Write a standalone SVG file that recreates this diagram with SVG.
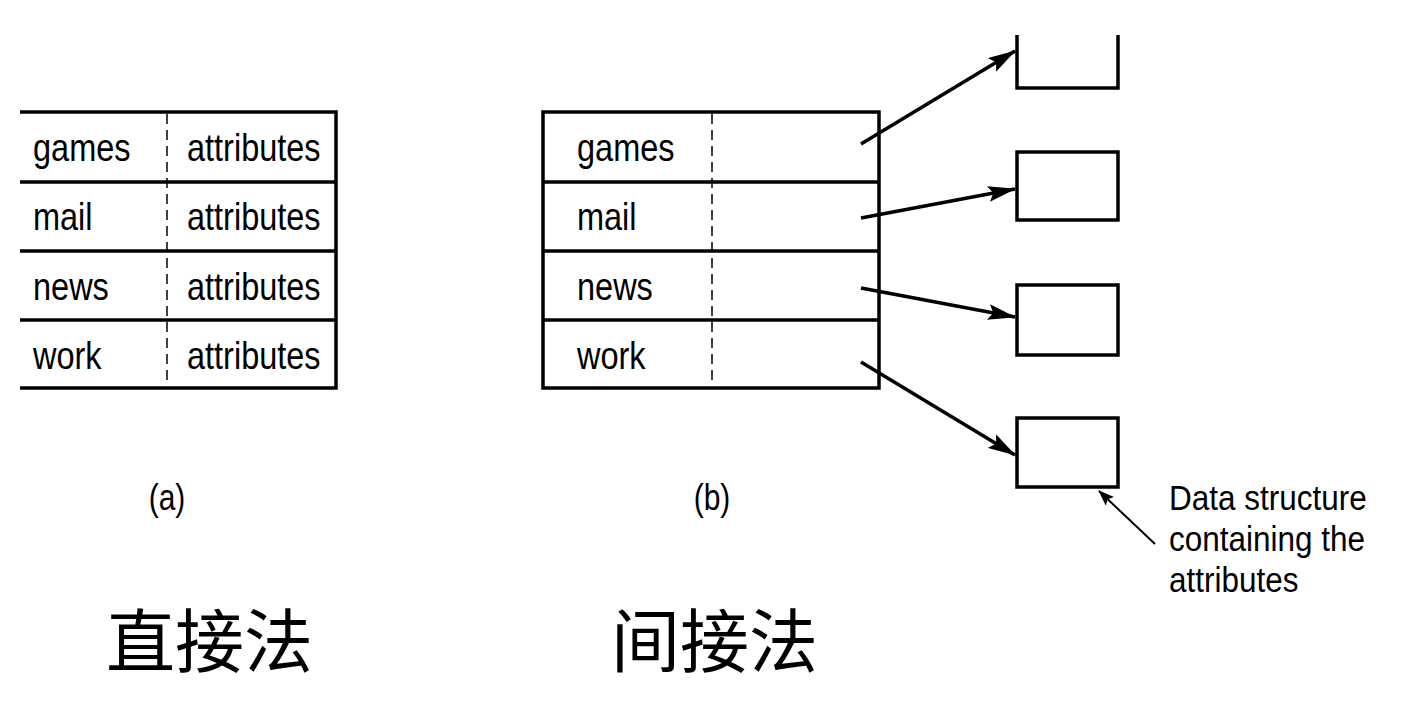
<svg xmlns="http://www.w3.org/2000/svg" width="1415" height="703" viewBox="0 0 1415 703">
<defs>
<style>
.ln{stroke:#000;stroke-width:3.5;fill:none}
.dash{stroke:#000;stroke-width:1.5;stroke-dasharray:10,6;fill:none}
.t{font-family:"Liberation Sans",Arial,sans-serif;font-size:32.5px;fill:#000}
.s{font-family:"Liberation Sans",Arial,sans-serif;font-size:31.5px;fill:#000}
.p{font-family:"Liberation Sans",Arial,sans-serif;font-size:30px;fill:#000}
.cjk{font-family:"Noto Sans CJK SC","Noto Sans",sans-serif;font-size:69px;fill:#000}
.arr{stroke:#000;stroke-width:3.5;fill:none}
</style>
<marker id="ah" viewBox="0 0 28 16" refX="27" refY="8" markerWidth="28" markerHeight="16" orient="auto" markerUnits="userSpaceOnUse">
<path d="M0,0 L28,8 L0,16 L5,8 Z" fill="#000"/>
</marker>
<marker id="ah2" viewBox="0 0 16 12" refX="15" refY="6" markerWidth="16" markerHeight="12" orient="auto" markerUnits="userSpaceOnUse">
<path d="M0,0 L16,6 L0,12 L3,6 Z" fill="#000"/>
</marker>
</defs>
<rect width="1415" height="703" fill="#fff"/>

<g id="table-a">
<path class="ln" d="M20,112 H336 V388 H20 M20,182 H336 M20,251 H336 M20,320 H336"/>
<path class="dash" d="M167,114 V386"/>
<text class="t" transform="translate(33,161) scale(1,1.2)">games</text>
<text class="t" transform="translate(33,230) scale(1,1.2)">mail</text>
<text class="t" transform="translate(33,300) scale(1,1.2)">news</text>
<text class="t" transform="translate(33,369) scale(1,1.2)">work</text>
<text class="t" transform="translate(187,161) scale(1,1.2)">attributes</text>
<text class="t" transform="translate(187,230) scale(1,1.2)">attributes</text>
<text class="t" transform="translate(187,300) scale(1,1.2)">attributes</text>
<text class="t" transform="translate(187,369) scale(1,1.2)">attributes</text>
<text class="p" text-anchor="middle" transform="translate(167,510) scale(1,1.2)">(a)</text>
</g>

<g id="table-b">
<rect class="ln" x="543" y="112" width="336" height="276"/>
<path class="ln" d="M543,182 H879 M543,251 H879 M543,320 H879"/>
<path class="dash" d="M712,114 V386"/>
<text class="t" transform="translate(577,161) scale(1,1.2)">games</text>
<text class="t" transform="translate(577,230) scale(1,1.2)">mail</text>
<text class="t" transform="translate(577,300) scale(1,1.2)">news</text>
<text class="t" transform="translate(577,369) scale(1,1.2)">work</text>
<text class="p" text-anchor="middle" transform="translate(712,510) scale(1,1.2)">(b)</text>
</g>

<g id="box1"><path class="ln" d="M1017,35 V88 H1118 V35"/></g>
<g id="box2"><rect class="ln" x="1017" y="152" width="101" height="68"/></g>
<g id="box3"><rect class="ln" x="1017" y="285" width="101" height="70"/></g>
<g id="box4"><rect class="ln" x="1017" y="418" width="101" height="69"/></g>

<g id="note">
<text class="s" transform="translate(1169,510) scale(1,1.12)">Data structure</text>
<text class="s" transform="translate(1169,551) scale(1,1.12)">containing the</text>
<text class="s" transform="translate(1169,592) scale(1,1.12)">attributes</text>
</g>

<g id="connectors">
<line class="arr" x1="861" y1="144" x2="1015" y2="51" marker-end="url(#ah)"/>
<line class="arr" x1="861" y1="218" x2="1015" y2="189" marker-end="url(#ah)"/>
<line class="arr" x1="861" y1="288" x2="1015" y2="317" marker-end="url(#ah)"/>
<line class="arr" x1="861" y1="362" x2="1015" y2="455" marker-end="url(#ah)"/>
<line x1="1155" y1="544" x2="1099" y2="491" stroke="#000" stroke-width="2" marker-end="url(#ah2)"/>
</g>

<g id="captions">
<text class="cjk" x="106" y="667">直接法</text>
<text class="cjk" x="611" y="667">间接法</text>
</g>
</svg>
